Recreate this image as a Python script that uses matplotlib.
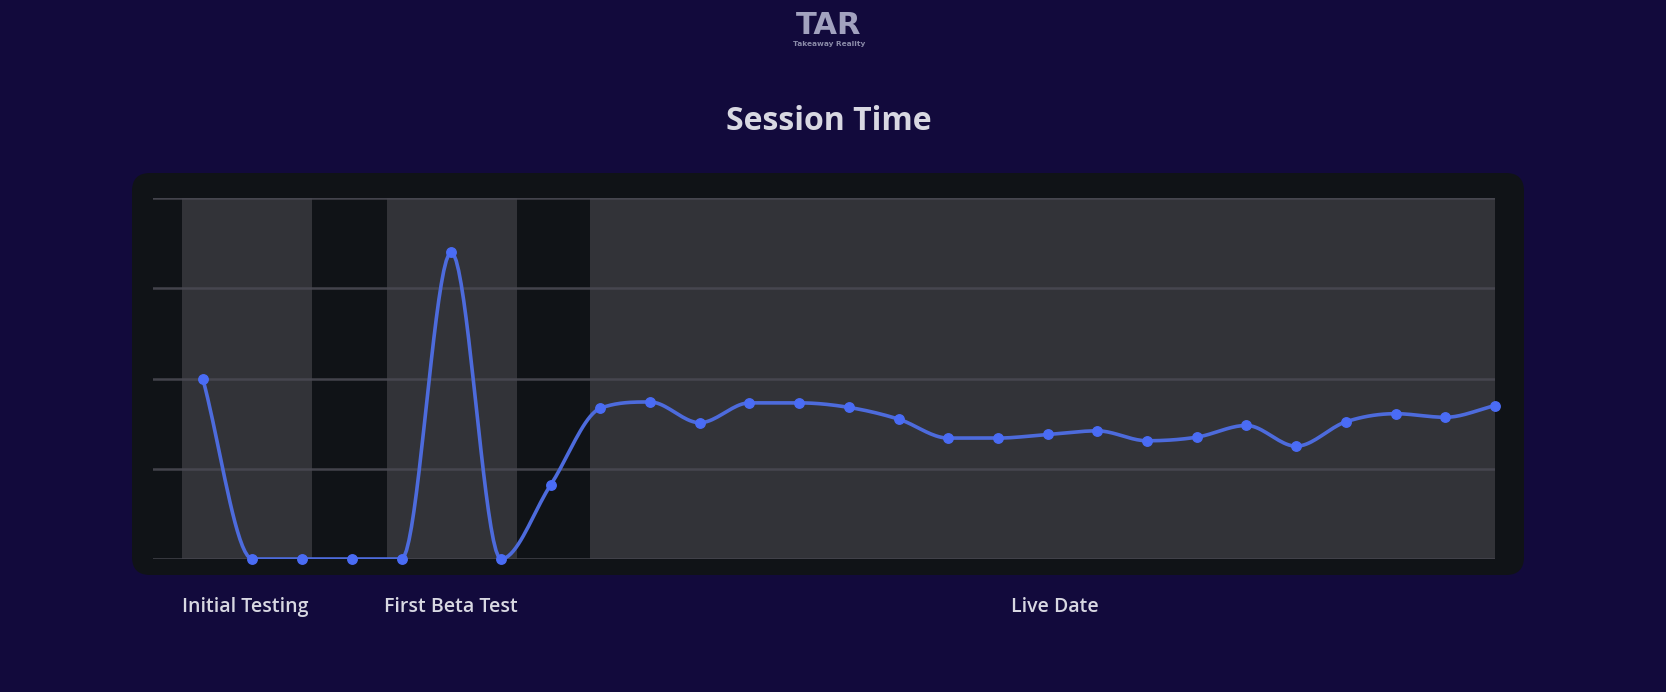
"""
Session Time chart - dark dashboard style
"""
import numpy as np
import matplotlib
matplotlib.use("Agg")
import matplotlib.pyplot as plt
from matplotlib.patches import FancyBboxPatch

# data
session_time = [2.0, 0.0, 0.0, 0.0, 0.0, 3.40, 0.0, 0.82, 1.67, 1.74, 1.51, 1.73,
                1.73, 1.68, 1.55, 1.34, 1.34, 1.38, 1.42, 1.31, 1.35, 1.48, 1.25,
                1.52, 1.61, 1.57, 1.70]
phase_labels = ["Initial Testing", "First Beta Test", "Live Date"]
phase_start = [-0.42, 3.7, 7.8]
phase_end = [2.2, 6.32, 26.0]
label_x = [0.85, 5.0, 17.15]

bg = "#120a3c"
panel = "#101317"
band = "#323338"
grid_c = "#494952"
line_c = "#4d6bdc"
dot_c = "#4a6cf5"
text_c = "#d8d8e2"


def monotone(x, y, n=20):
    # Fritsch-Carlson monotone cubic, only used to draw the line smooth
    x = np.asarray(x, float)
    y = np.asarray(y, float)
    h = np.diff(x)
    d = np.diff(y) / h
    m = np.zeros_like(y)
    m[0] = d[0]
    m[-1] = d[-1]
    for k in range(1, len(y) - 1):
        if d[k - 1] * d[k] <= 0:
            m[k] = 0
        else:
            m[k] = (d[k - 1] + d[k]) / 2
    for k in range(len(d)):
        if d[k] == 0:
            m[k] = m[k + 1] = 0
        else:
            a = m[k] / d[k]
            b = m[k + 1] / d[k]
            s = a * a + b * b
            if s > 9:
                t = 3 / np.sqrt(s)
                m[k] = t * a * d[k]
                m[k + 1] = t * b * d[k]
    xs, ys = [], []
    for k in range(len(d)):
        t = np.linspace(0, 1, n, endpoint=False)
        h00 = 2 * t**3 - 3 * t**2 + 1
        h10 = t**3 - 2 * t**2 + t
        h01 = -2 * t**3 + 3 * t**2
        h11 = t**3 - t**2
        xs.append(x[k] + t * h[k])
        ys.append(h00 * y[k] + h10 * h[k] * m[k] + h01 * y[k + 1] + h11 * h[k] * m[k + 1])
    xs.append([x[-1]])
    ys.append([y[-1]])
    return np.concatenate(xs), np.concatenate(ys)


W, H = 1666, 692
fig = plt.figure(figsize=(W / 100, H / 100), dpi=100, facecolor=bg)

# background layer in pixel coords
bgax = fig.add_axes([0, 0, 1, 1])
bgax.set_xlim(0, W)
bgax.set_ylim(H, 0)
bgax.axis("off")
bgax.set_facecolor(bg)
bgax.add_patch(FancyBboxPatch((132 + 18, 173 + 18), 1524 - 132 - 36, 575 - 173 - 36,
                              boxstyle="round,pad=18", fc=panel, ec="none"))

# logo + title
bgax.text(829, 25, "TAR", ha="center", va="center", fontsize=22, fontweight="bold",
          color="#a2a2bf", family="DejaVu Sans", stretch="expanded")
bgax.text(829, 44, "Takeaway Reality", ha="center", va="center", fontsize=5.3,
          color="#8a8aa8", fontweight="bold")
bgax.text(829, 121, "Session Time", ha="center", va="center", fontsize=23,
          fontweight="bold", color=text_c, family="Open Sans")

ax = fig.add_axes([153 / W, 1 - 559 / H, (1495 - 153) / W, (559 - 198) / H])
ax.set_facecolor(panel)
ax.set_xlim(-1, 26)
ax.set_ylim(0, 4)

for s, e in zip(phase_start, phase_end):
    ax.axvspan(s, e, color=band, lw=0, zorder=0)

for v in range(5):
    ax.axhline(v, color=grid_c, lw=1.8, zorder=1, alpha=0.9)

x = np.arange(len(session_time))
xs, ys = monotone(x, session_time)
ax.plot(xs, ys, color=line_c, lw=2.6, zorder=3, solid_capstyle="round")
ax.plot(x, session_time, "o", color=dot_c, ms=6.8, zorder=4, clip_on=False)

for lab, lx in zip(phase_labels, label_x):
    ax.text(lx, -0.53, lab, ha="center", va="center", fontsize=14,
            fontweight="semibold", color=text_c, family="Open Sans")

for sp in ax.spines.values():
    sp.set_visible(False)
ax.set_xticks([])
ax.set_yticks([])

fig.savefig("out.png", dpi=100, facecolor=bg)
